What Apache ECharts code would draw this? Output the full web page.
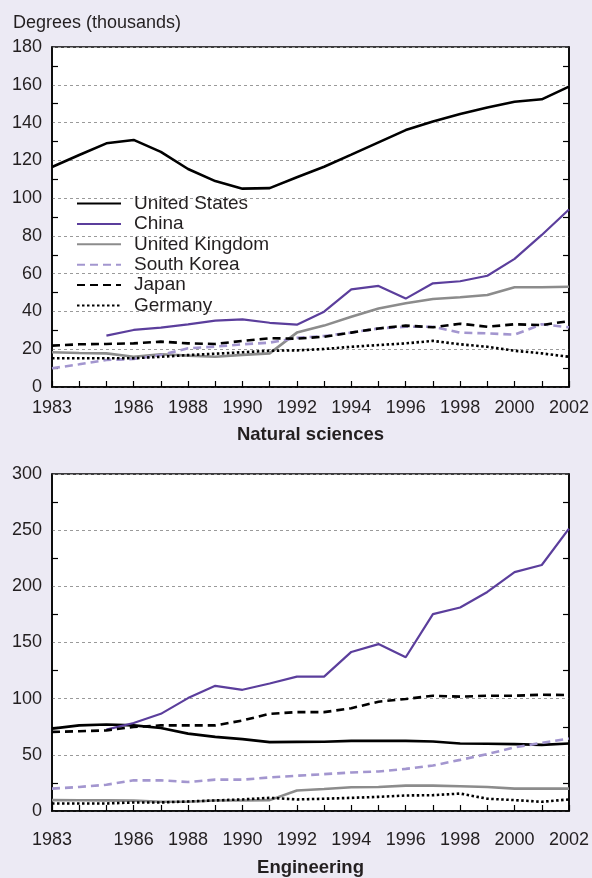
<!DOCTYPE html>
<html><head><meta charset="utf-8">
<script src="https://cdn.jsdelivr.net/npm/echarts@6/dist/echarts.min.js"></script>
<style>html,body{margin:0;padding:0;background:#ECEAF4;}#c{width:592px;height:878px;}</style>
</head><body><div id="c"></div>
<script>
const years = [1983,1984,1985,1986,1987,1988,1989,1990,1991,1992,1993,1994,1995,1996,1997,1998,1999,2000,2001,2002];
const xTickLabels = [1983,1986,1988,1990,1992,1994,1996,1998,2000,2002];
const countries = ['United States','China','United Kingdom','South Korea','Japan','Germany'];

const usSci = [116.5,122.8,129,130.8,124.5,115.4,109,105,105.3,111,116.6,123,129.5,136,140.5,144.5,148,151,152.3,159];
const chinaSci = [null,null,27.2,30.2,31.4,33.2,35.1,35.8,34,33,39.9,51.7,53.5,46.8,54.9,56,58.9,67.8,80.5,94];
const ukSci = [18.4,18,17.8,16,17.3,16.6,16,17,17.8,28.8,32.5,37.2,41.6,44.3,46.6,47.5,48.7,52.8,52.8,53.1];
const krSci = [9.9,12,14.3,14.8,16.9,20.5,21.4,22.6,23.5,26,27,28.8,31,31.9,31.9,28.8,28.4,27.7,33.2,31.6];
const jpSci = [21.9,22.6,22.8,23.1,24,23.1,22.8,24.4,25.8,25.6,26.6,28.8,31,32.5,31.6,33.5,31.9,33.2,32.8,34.9];
const deSci = [15.2,15.2,15.2,15.2,16,16.9,17.6,18.4,19.2,19.4,20.1,21.3,22.2,23.1,24.4,22.6,21.3,19.2,17.8,16];

const usEng = [73.3,76.2,77,76.2,73.9,68.9,66,64,61.3,61.5,61.6,62.4,62.4,62.4,61.9,60.1,59.8,59.5,58.9,60.1];
const chinaEng = [null,null,72.4,78.3,86.5,100.5,111.4,107.9,113.5,119.6,119.6,141.6,148.6,136.9,175.3,181.2,195,212.6,219,251.3];
const ukEng = [9.7,9.6,9.5,9.2,8.2,8.2,9.4,9.4,9.7,18.3,19.6,21.1,21.4,22.6,22.6,22,21.4,19.9,19.9,19.9];
const krEng = [19.9,21.4,23.4,27.3,27.3,25.8,27.9,27.9,29.9,31.4,32.8,34.3,35.2,37.5,40.5,45.5,50.7,56.6,60.7,64.5];
const jpEng = [70.4,71,71.8,74.8,76.2,76.2,76.2,80.6,86.5,88,88,91.5,97.3,99.7,102.6,101.8,102.6,102.6,103.5,103.2];
const deEng = [6.7,6.7,6.7,7.6,7.6,8.5,9.4,10.3,11.7,10.3,10.9,11.7,12.6,13.8,14.1,15.5,10.9,9.7,8.2,10.3];

const sciMax = 180, sciStep = 20;
const engMax = 300, engStep = 50;

const FONT = '"Liberation Sans", Arial, Helvetica, sans-serif';
const TXT = '#231F20';
const styles = [
  {color:'#000000', width:2.6, type:'solid'},
  {color:'#5B3E9C', width:2.2, type:'solid'},
  {color:'#8C8C8C', width:2.6, type:'solid'},
  {color:'#A396CF', width:2.6, type:[8,5]},
  {color:'#000000', width:2.6, type:[8,5]},
  {color:'#000000', width:2.6, type:[2.5,2.5]}
];

function pairs(vals){ return years.map((y,i)=>[y, vals[i]]); }

function xAxis(gi, name, labelMargin, nameGap){
  return {
    type:'value', gridIndex:gi, min:years[0], max:years[years.length-1], interval:1,
    axisLine:{lineStyle:{color:'#000', width:1.5}},
    axisTick:{inside:true, length:6, lineStyle:{color:'#000', width:1.2}},
    splitLine:{show:false},
    axisLabel:{margin:labelMargin, color:TXT, fontSize:18, fontFamily:FONT,
      formatter:v=> xTickLabels.indexOf(v)>=0 ? String(v) : ''},
    name:name, nameLocation:'middle', nameGap:nameGap,
    nameTextStyle:{fontWeight:'bold', fontSize:18.5, color:TXT, fontFamily:FONT}
  };
}
function yAxisL(gi, max, step){
  return {
    type:'value', gridIndex:gi, min:0, max:max, interval:step, position:'left',
    axisLine:{show:true, lineStyle:{color:'#000', width:1.5}},
    axisTick:{show:false, inside:true},
    minorTick:{show:true, splitNumber:2, length:6, lineStyle:{color:'#000', width:1.2}},
    splitLine:{show:true, lineStyle:{color:'#9A9A9A', width:1, type:[3,3]}},
    axisLabel:{margin:10, color:TXT, fontSize:18, fontFamily:FONT}
  };
}
function yAxisR(gi, max, step){
  return {
    type:'value', gridIndex:gi, min:0, max:max, interval:step, position:'right',
    axisLine:{show:true, lineStyle:{color:'#000', width:1.5}},
    axisTick:{show:false, inside:true},
    minorTick:{show:true, splitNumber:2, length:6, lineStyle:{color:'#000', width:1.2}},
    splitLine:{show:false},
    axisLabel:{show:false}
  };
}
function mkSeries(vals, idx, xi, yi){
  const s = styles[idx];
  return {
    type:'line', name:countries[idx], xAxisIndex:xi, yAxisIndex:yi,
    data:pairs(vals), symbol:'none', showSymbol:false, connectNulls:false,
    lineStyle:{color:s.color, width:s.width, type:s.type},
    itemStyle:{color:s.color, opacity:0}, animation:false, z:3+idx
  };
}

const sciVals = [usSci, chinaSci, ukSci, krSci, jpSci, deSci];
const engVals = [usEng, chinaEng, ukEng, krEng, jpEng, deEng];

const chart = echarts.init(document.getElementById('c'), null, {renderer:'canvas'});
chart.setOption({
  animation:false,
  backgroundColor:'#ECEAF4',
  title:{text:'Degrees (thousands)', left:8, top:9, padding:5,
    textStyle:{fontWeight:'normal', fontSize:18, color:TXT, fontFamily:FONT}},
  grid:[
    {left:52, top:47, width:517, height:340, show:true, backgroundColor:'#fff', borderColor:'#000', borderWidth:1.5},
    {left:52, top:474, width:517, height:341, show:true, backgroundColor:'#fff', borderColor:'#000', borderWidth:1.5}
  ],
  legend:{
    data:countries, orient:'vertical', left:76, top:194, padding:0,
    itemWidth:44, itemHeight:14, itemGap:1.4,
    itemStyle:{opacity:0},
    textStyle:{fontSize:19, color:TXT, fontFamily:FONT, padding:[0,0,0,8], lineHeight:18},
    selectedMode:false
  },
  xAxis:[xAxis(0,'Natural sciences',12,38), xAxis(1,'Engineering',20,47)],
  yAxis:[yAxisL(0,sciMax,sciStep), yAxisR(0,sciMax,sciStep), yAxisL(1,engMax,engStep), yAxisR(1,engMax,engStep)],
  series: sciVals.map((v,i)=>mkSeries(v,i,0,0)).concat(engVals.map((v,i)=>mkSeries(v,i,1,2)))
});
</script></body></html>
